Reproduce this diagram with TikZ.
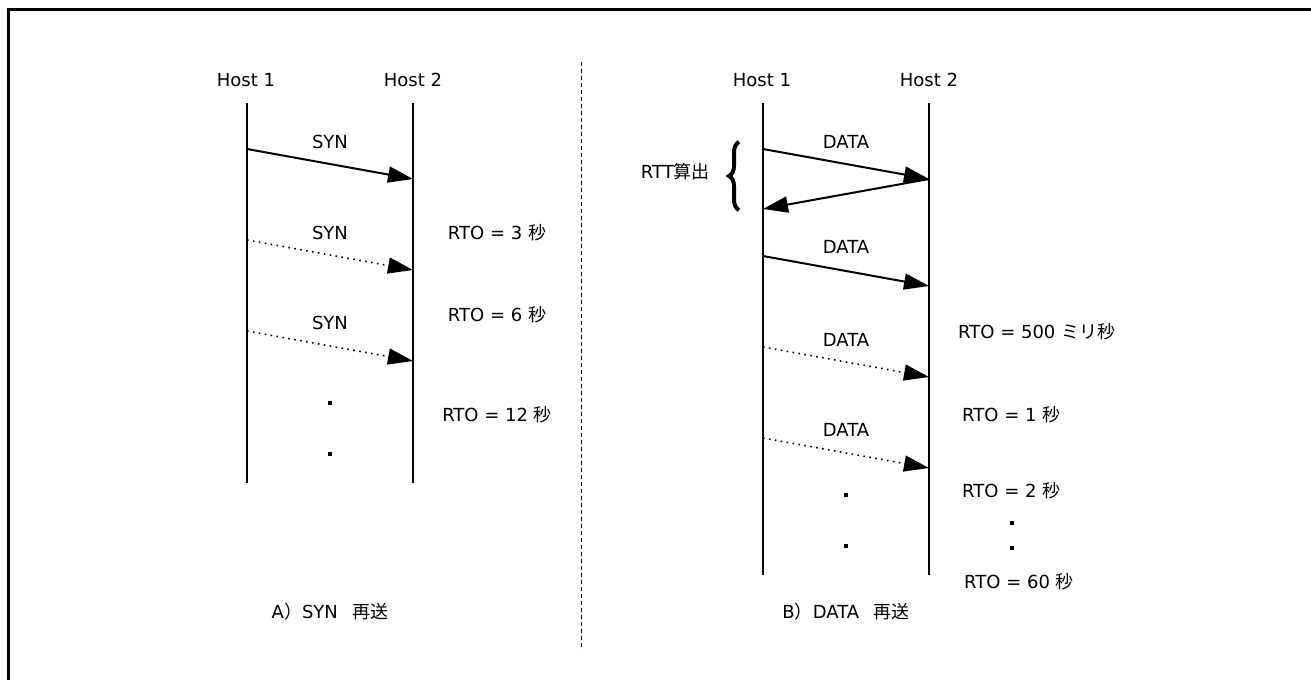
\documentclass[tikz,border=0pt]{standalone}
\usepackage{fontspec}
\setmainfont{DejaVu Sans}
\newfontfamily\jp{Noto Sans CJK JP}
\usetikzlibrary{arrows.meta,decorations.pathreplacing}

\tikzset{
  lifeline/.style={line width=2.2pt},
  msg/.style={line width=2pt,-{Triangle[length=25pt,width=16pt]}},
  lostmsg/.style={msg,line width=1.6pt,dash pattern=on 1.6pt off 4.4pt},
  lbl/.style={inner sep=0pt},
  dotmark/.style={fill,minimum size=3.8pt,inner sep=0pt},
}

\begin{document}
\begin{tikzpicture}[x=1pt,y=1pt,font=\fontsize{18}{21}\selectfont]
  \useasboundingbox (0,0) rectangle (1311,-680);
  \draw[line width=3pt] (8,-680) -- (8,-9) -- (1311,-9);
  \draw[black,line width=1pt,dash pattern=on 4pt off 3pt] (581,-62) -- (581,-650);

  % A) SYN retransmission
  \node[lbl] (a1) at (246,-80) {Host 1};
  \node[lbl] (a2) at (413,-80) {Host 2};
  \coordinate (a1top) at (247,-103);
  \coordinate (a1bot) at (247,-483);
  \coordinate (a2top) at (413,-103);
  \coordinate (a2bot) at (413,-483);
  \draw[lifeline] (a1top) -- (a1bot);
  \draw[lifeline] (a2top) -- (a2bot);

  \coordinate (sa1) at (247,-149);  \coordinate (sb1) at (413,-179);
  \coordinate (sa2) at (247,-240);  \coordinate (sb2) at (413,-270);
  \coordinate (sa3) at (247,-331);  \coordinate (sb3) at (413,-361);
  \draw[msg] (sa1) -- (sb1);
  \draw[lostmsg] (sa2) -- (sb2);
  \draw[lostmsg] (sa3) -- (sb3);
  \node[lbl] (syn1) at (330,-142) {SYN};
  \node[lbl] (syn2) at (330,-233) {SYN};
  \node[lbl] (syn3) at (330,-323) {SYN};
  \node[dotmark] (ad1) at (330,-403) {};
  \node[dotmark] (ad2) at (330,-454) {};

  \node[lbl] (rto3) at (497,-233) {RTO = 3 {\jp 秒}};
  \node[lbl] (rto6) at (497,-315) {RTO = 6 {\jp 秒}};
  \node[lbl] (rto12) at (497,-415) {RTO = 12 {\jp 秒}};
  \node[lbl] (capA) at (330,-612) {A{\jp ）}SYN\hspace{0.8em}{\jp 再送}};

  % B) DATA retransmission
  \node[lbl] (b1) at (762,-80) {Host 1};
  \node[lbl] (b2) at (929,-80) {Host 2};
  \coordinate (b1top) at (763,-103);
  \coordinate (b1bot) at (763,-575);
  \coordinate (b2top) at (929,-103);
  \coordinate (b2bot) at (929,-575);
  \draw[lifeline] (b1top) -- (b1bot);
  \draw[lifeline] (b2top) -- (b2bot);

  \coordinate (da1) at (763,-149);  \coordinate (db1) at (929,-179);
  \coordinate (da0) at (763,-209);
  \coordinate (da2) at (763,-256);  \coordinate (db2) at (929,-286);
  \coordinate (da3) at (763,-347);  \coordinate (db3) at (929,-377);
  \coordinate (da4) at (763,-438);  \coordinate (db4) at (929,-468);
  \draw[msg] (da1) -- (db1);
  \draw[msg] (db1) -- (da0);
  \draw[msg] (da2) -- (db2);
  \draw[lostmsg] (da3) -- (db3);
  \draw[lostmsg] (da4) -- (db4);
  \node[lbl] (data1) at (846,-142) {DATA};
  \node[lbl] (data2) at (846,-247) {DATA};
  \node[lbl] (data3) at (846,-340) {DATA};
  \node[lbl] (data4) at (846,-430) {DATA};
  \node[dotmark] (bd1) at (846,-495) {};
  \node[dotmark] (bd2) at (846,-546) {};

  \coordinate (brlo) at (739,-210);
  \coordinate (brhi) at (739,-142);
  \draw[line width=4pt,decorate,decoration={brace,amplitude=10pt}] (brlo) -- (brhi);
  \node[lbl,anchor=east] (rtt) at (710,-172) {RTT{\jp 算出}};

  \node[lbl,anchor=west] (rto500) at (958,-332) {RTO = 500 {\jp ミリ秒}};
  \node[lbl,anchor=west] (rto1) at (962,-415) {RTO = 1 {\jp 秒}};
  \node[lbl,anchor=west] (rto2) at (962,-491) {RTO = 2 {\jp 秒}};
  \node[dotmark] (rd1) at (1012,-523) {};
  \node[dotmark] (rd2) at (1012,-548) {};
  \node[lbl,anchor=west] (rto60) at (964,-582) {RTO = 60 {\jp 秒}};
  \node[lbl] (capB) at (846,-612) {B{\jp ）}DATA\hspace{0.8em}{\jp 再送}};
\end{tikzpicture}
\end{document}
